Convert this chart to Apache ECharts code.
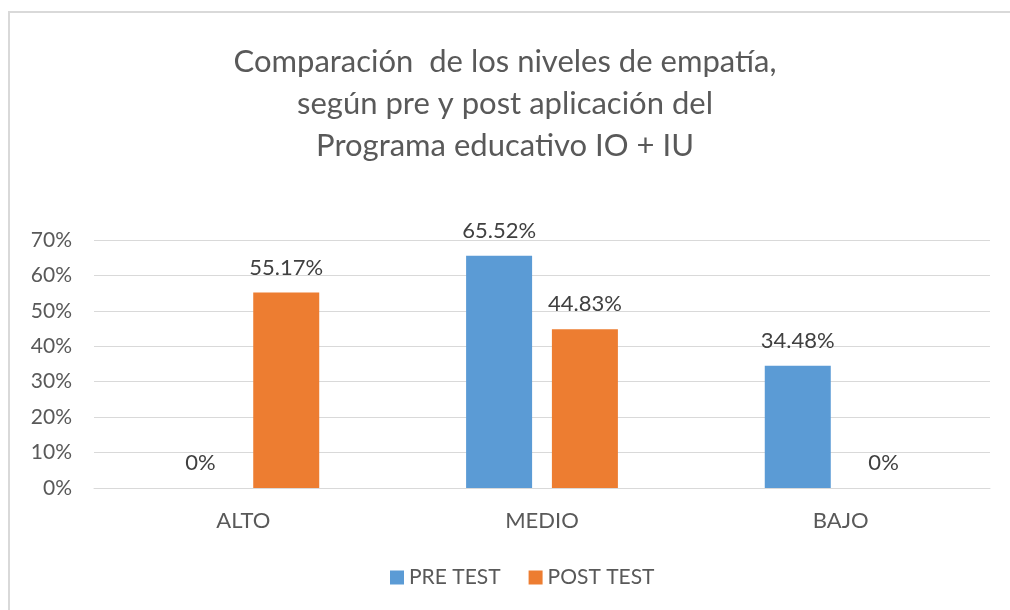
<!DOCTYPE html>
<html>
<head>
<meta charset="utf-8">
<script src="https://cdn.jsdelivr.net/npm/echarts@6/dist/echarts.min.js"></script>
<style>html,body{margin:0;padding:0;background:#fff}#c{width:1010px;height:610px}</style>
</head>
<body>
<div id="c"></div>
<script>
const categories = ['ALTO', 'MEDIO', 'BAJO'];
const preTest = [0, 65.52, 34.48];
const postTest = [55.17, 44.83, 0];
const yTicks = [0, 10, 20, 30, 40, 50, 60, 70];
const seriesNames = ['PRE TEST', 'POST TEST'];
const titleText = 'Comparación  de los niveles de empatía,\nsegún pre y post aplicación del\nPrograma educativo IO + IU';

const FONT = 'Lato';
const chart = echarts.init(document.getElementById('c'), null, {renderer: 'canvas'});
chart.setOption({
  animation: false,
  backgroundColor: '#fff',
  textStyle: {fontFamily: FONT},
  graphic: [{
    type: 'polyline',
    shape: {points: [[9, 610], [9, 12], [1010, 12]]},
    style: {stroke: '#d9d9d9', lineWidth: 2, fill: null}
  }],
  title: {
    text: titleText,
    left: 'center',
    top: 36,
    textStyle: {fontFamily: FONT, fontSize: 31, fontWeight: 'normal', color: '#595959', lineHeight: 42}
  },
  legend: {
    data: seriesNames,
    bottom: 17,
    left: 385,
    itemWidth: 14,
    itemHeight: 14,
    itemGap: 28,
    icon: 'rect',
    textStyle: {fontFamily: FONT, fontSize: 21, color: '#595959'}
  },
  grid: {left: 94, right: 20, top: 240, bottom: 122},
  xAxis: {
    type: 'category',
    data: categories,
    axisLine: {lineStyle: {color: '#d9d9d9', width: 1}},
    axisTick: {show: false},
    axisLabel: {fontFamily: FONT, fontSize: 22, color: '#595959', margin: 22}
  },
  yAxis: {
    type: 'value',
    min: yTicks[0],
    max: yTicks[yTicks.length - 1],
    interval: 10,
    axisLine: {show: false},
    axisTick: {show: false},
    splitLine: {lineStyle: {color: '#d9d9d9', width: 1}},
    axisLabel: {fontFamily: FONT, fontSize: 21, color: '#595959', margin: 22, formatter: v => v + '%'}
  },
  series: [
    {
      name: seriesNames[0], type: 'bar', data: preTest,
      barWidth: 66, barGap: '30%',
      itemStyle: {color: '#5b9bd5'},
      label: {show: true, position: 'top', distance: 14, fontFamily: FONT, fontSize: 22, color: '#404040',
        formatter: p => p.value === 0 ? '0%' : p.value.toFixed(2) + '%'}
    },
    {
      name: seriesNames[1], type: 'bar', data: postTest,
      barWidth: 66, barGap: '30%',
      itemStyle: {color: '#ed7d31'},
      label: {show: true, position: 'top', distance: 14, fontFamily: FONT, fontSize: 22, color: '#404040',
        formatter: p => p.value === 0 ? '0%' : p.value.toFixed(2) + '%'}
    }
  ]
});
</script>
</body>
</html>
